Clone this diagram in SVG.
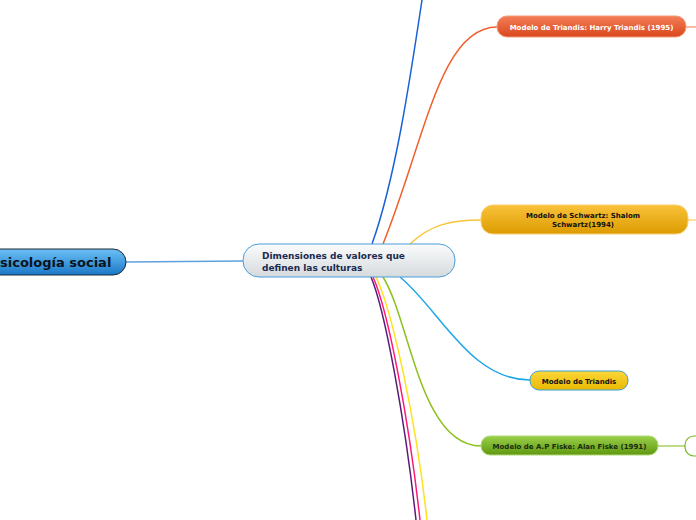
<svg xmlns="http://www.w3.org/2000/svg" width="696" height="520" viewBox="0 0 696 520">
<defs>
<linearGradient id="gRoot" x1="0" y1="0" x2="0" y2="1"><stop offset="0" stop-color="#6cc0f4"/><stop offset="1" stop-color="#1b78c8"/></linearGradient>
<linearGradient id="gMain" x1="0" y1="0" x2="0" y2="1"><stop offset="0" stop-color="#fbfcfc"/><stop offset="1" stop-color="#d5dadd"/></linearGradient>
<linearGradient id="gOrange" x1="0" y1="0" x2="0" y2="1"><stop offset="0" stop-color="#f47e58"/><stop offset="1" stop-color="#d9471c"/></linearGradient>
<linearGradient id="gAmber" x1="0" y1="0" x2="0" y2="1"><stop offset="0" stop-color="#f9c23a"/><stop offset="1" stop-color="#dc9c00"/></linearGradient>
<linearGradient id="gYellow" x1="0" y1="0" x2="0" y2="1"><stop offset="0" stop-color="#fbd73a"/><stop offset="1" stop-color="#eab800"/></linearGradient>
<linearGradient id="gGreen" x1="0" y1="0" x2="0" y2="1"><stop offset="0" stop-color="#9bd04a"/><stop offset="1" stop-color="#5f9810"/></linearGradient>
</defs>
<style>
.t{font-family:"DejaVu Sans",Verdana,sans-serif;font-weight:bold}
.c{fill:none;stroke-width:1.5}
</style>
<g id="connectors">
<path class="c" d="M126,262 L243,261" stroke="#5fa0dc" stroke-width="1"/>
<path class="c" d="M372,244 C395,180 410,80 422,0" stroke="#1a62d6"/>
<path class="c" d="M383,244 C425,140 440,27 497,27" stroke="#f0602e" stroke-width="1.2"/>
<path class="c" d="M686,27 L696,27" stroke="#f7a585" stroke-width="1"/>
<path class="c" d="M410,244 C430,225 450,220 481,220" stroke="#f9c53a" stroke-width="1.2"/>
<path class="c" d="M688,220 L696,220" stroke="#fad57a" stroke-width="1"/>
<path class="c" d="M400,277 C440,310 470,380 530,380" stroke="#1ea6e6" stroke-width="1.2"/>
<path class="c" d="M383,277 C410,320 420,446 481,446" stroke="#8cc21e" stroke-width="1.2"/>
<path class="c" d="M658,446 L685,446" stroke="#a8d060" stroke-width="1"/>
<path class="c" d="M371,277 C385,310 405,420 416,520" stroke="#5c1a78" stroke-width="1.8"/>
<path class="c" d="M373,277 C388,310 409,420 420,520" stroke="#ff1a78" stroke-width="1.8"/>
<path class="c" d="M376,277 C392,310 416,420 427,520" stroke="#ffe11e" stroke-width="1.5"/>
</g>
<g id="root">
<rect x="-20" y="249" width="146" height="26" rx="13" fill="url(#gRoot)" stroke="#1c2a3a" stroke-width="1"/>
<text class="t" x="0" y="267" font-size="13" fill="#0a1420">sicología social</text>
</g>
<g id="main">
<rect x="243" y="244" width="212" height="33" rx="16" fill="url(#gMain)" stroke="#4a9ed8" stroke-width="1"/>
<text class="t" x="262" y="259" font-size="9" fill="#1a2a50">Dimensiones de valores que</text>
<text class="t" x="262" y="271" font-size="9" fill="#1a2a50">definen las culturas</text>
</g>
<g id="n1">
<rect x="497" y="16" width="189" height="21" rx="10" fill="url(#gOrange)" stroke="#f59a78" stroke-width="1"/>
<text class="t" x="591.5" y="29.5" font-size="7" fill="#ffffff" text-anchor="middle">Modelo de Triandis: Harry Triandis (1995)</text>
</g>
<g id="n2">
<rect x="481" y="205" width="207" height="29" rx="12" fill="url(#gAmber)" stroke="#fad070" stroke-width="1"/>
<text class="t" x="583" y="218" font-size="7" fill="#111" text-anchor="middle">Modelo de Schwartz: Shalom</text>
<text class="t" x="583" y="227" font-size="7" fill="#111" text-anchor="middle">Schwartz(1994)</text>
</g>
<g id="n3">
<rect x="530" y="371" width="98" height="19" rx="9" fill="url(#gYellow)" stroke="#3aa0d8" stroke-width="1"/>
<text class="t" x="579" y="383.5" font-size="7" fill="#111" text-anchor="middle">Modelo de Triandis</text>
</g>
<g id="n4">
<rect x="481" y="436" width="177" height="19" rx="9" fill="url(#gGreen)" stroke="#b0d878" stroke-width="1"/>
<text class="t" x="569.5" y="448.5" font-size="7" fill="#1a2a10" text-anchor="middle">Modelo de A.P Fiske: Alan Fiske (1991)</text>
</g>
<g id="n5">
<rect x="685" y="436" width="50" height="20" rx="9" fill="#ffffff" stroke="#7ab51d" stroke-width="1.2"/>
</g>
</svg>
